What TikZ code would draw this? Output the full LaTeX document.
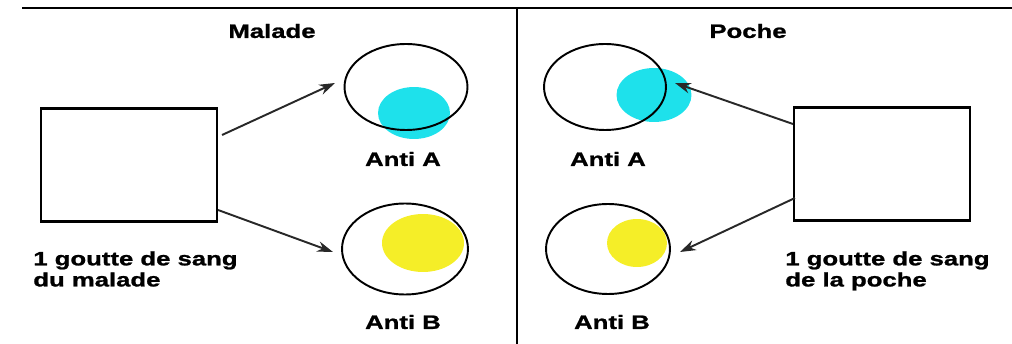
\documentclass[tikz,border=0pt]{standalone}
\usepackage{fontspec}
\setmainfont{Liberation Sans}[FakeStretch=1.33, BoldFeatures={FakeBold=1.2}]
\usetikzlibrary{arrows.meta, positioning, shapes.geometric, calc}
\usepackage{xcolor}
\definecolor{dropcyan}{RGB}{30,225,235}
\definecolor{dropyellow}{RGB}{245,238,40}
\definecolor{inkgray}{RGB}{40,40,40}

\begin{document}
\begin{tikzpicture}[x=0.02cm, y=-0.02cm,
  card/.style={draw, line width=1.2pt, minimum width=3.52cm, minimum height=2.26cm, inner sep=0pt},
  well/.style={draw, ellipse, line width=1.1pt, inner sep=0pt},
  drop/.style={ellipse, inner sep=0pt},
  lbl/.style={font=\fontsize{11}{12}\selectfont\bfseries, inner sep=0pt},
  txt/.style={font=\fontsize{11}{12}\selectfont\bfseries, align=left, inner sep=0pt, anchor=north west},
  arr/.style={-{Stealth[length=9pt, width=6pt]}, inkgray, line width=1.1pt}
]
\useasboundingbox (0,0) rectangle (1012,344);
% frame
\draw[line width=1.6pt] (22,8) -- (1012,8);
\draw[line width=1.6pt] (517,8) -- (517,344);

% malade
\node[lbl] (tmal) at (272,31) {Malade};
\node[card] (cmal) at (129,165) {};
\node[txt] (gmal) at (33,251) {1 goutte de sang\\du malade};
\node[drop, fill=dropcyan, minimum width=1.44cm, minimum height=1.04cm] (dmalA) at (414,113) {};
\node[drop, fill=dropyellow, minimum width=1.64cm, minimum height=1.16cm] (dmalB) at (423,243) {};
\node[well, minimum width=2.46cm, minimum height=1.72cm] (wmalA) at (406,87) {};
\node[well, minimum width=2.52cm, minimum height=1.82cm] (wmalB) at (405,249) {};
\node[lbl] (amalA) at (403,159) {Anti A};
\node[lbl] (amalB) at (403,322) {Anti B};

% poche
\node[lbl] (tpoc) at (748,31) {Poche};
\node[card] (cpoc) at (882,164) {};
\node[txt] (gpoc) at (785,251) {1 goutte de sang\\de la poche};
\node[drop, fill=dropcyan, minimum width=1.5cm, minimum height=1.08cm] (dpocA) at (654,95) {};
\node[drop, fill=dropyellow, minimum width=1.2cm, minimum height=0.96cm] (dpocB) at (637,243) {};
\node[well, minimum width=2.44cm, minimum height=1.72cm] (wpocA) at (605,87) {};
\node[well, minimum width=2.48cm, minimum height=1.8cm] (wpocB) at (608,249) {};
\node[lbl] (apocA) at (608,159) {Anti A};
\node[lbl] (apocB) at (612,322) {Anti B};

% arrow ends
\coordinate (hmalA) at (335,83);
\coordinate (hmalB) at (333,252);
\coordinate (hpocA) at (675,83);
\coordinate (hpocB) at (680,252);
\draw[arr] ($(cmal.east)+(4,-30)$) -- (hmalA);
\draw[arr] ($(cmal.east)+(0,45)$) -- (hmalB);
\draw[arr] ($(cpoc.west)+(0,-40)$) -- (hpocA);
\draw[arr] ($(cpoc.west)+(2,34)$) -- (hpocB);
\end{tikzpicture}
\end{document}
